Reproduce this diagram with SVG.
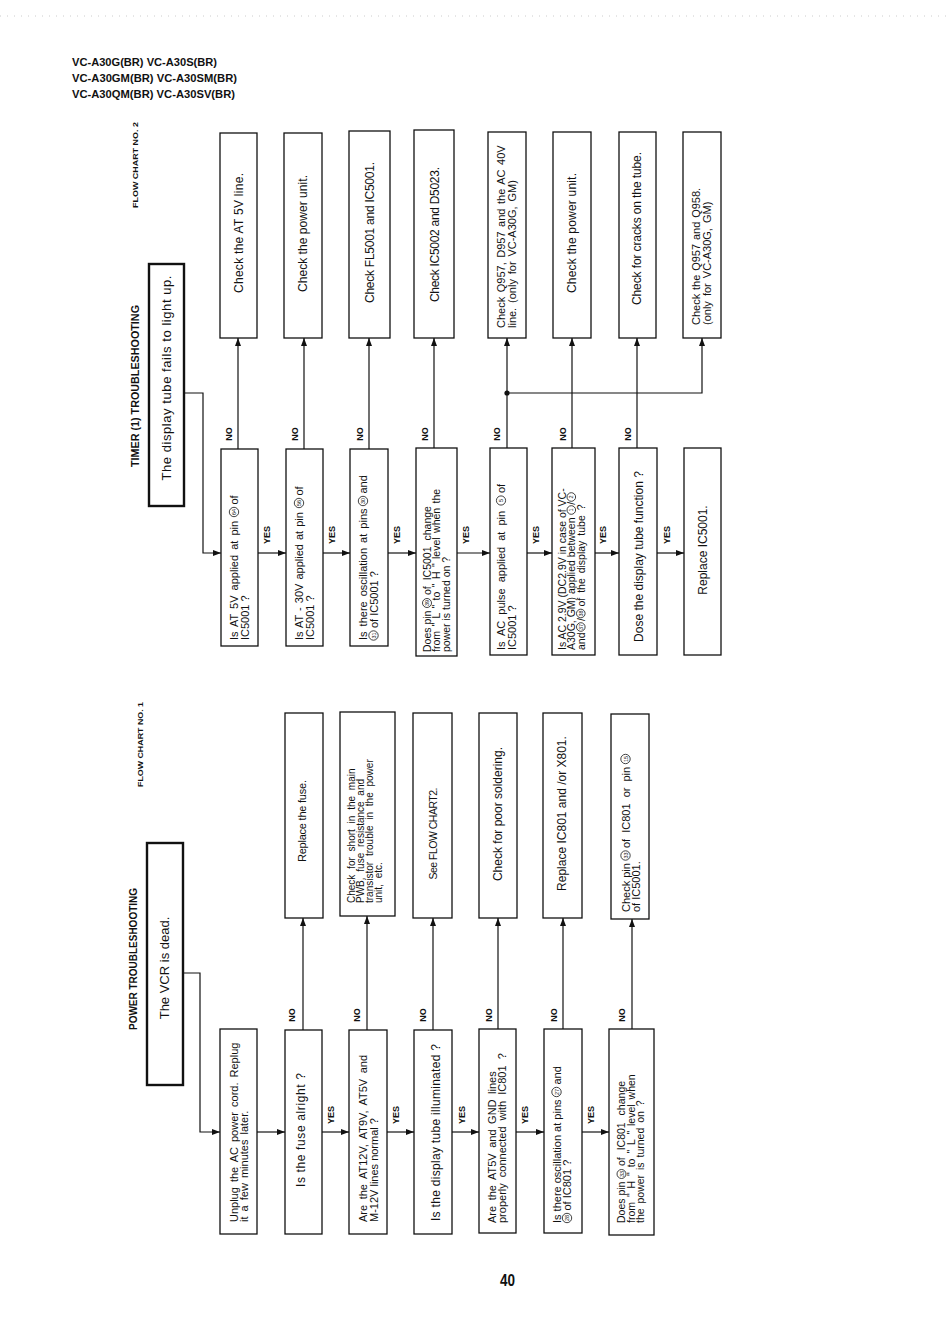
<svg xmlns="http://www.w3.org/2000/svg" width="950" height="1340" viewBox="0 0 950 1340">
<defs>
<marker id="ah" markerUnits="userSpaceOnUse" markerWidth="8" markerHeight="6" refX="8" refY="3" orient="auto">
<path d="M0,0 L8,3 L0,6 z" fill="#111"/>
</marker>
<style>
.box{fill:#fff;stroke:#111;stroke-width:1.3}
.sbox{fill:#fff;stroke:#111;stroke-width:2.4}
.t{font-family:"Liberation Sans",Arial,sans-serif;font-size:12px;fill:#111}
.t11{font-size:11px}
.t10{font-size:10.5px}
.t9{font-size:10px}
.t13{font-size:13px}
.m{text-anchor:middle}
.lbl{font-family:"Liberation Sans",Arial,sans-serif;font-size:9px;font-weight:bold;fill:#111;text-anchor:middle}
.hdr{font-family:"Liberation Sans",Arial,sans-serif;font-size:11px;font-weight:bold;fill:#111}
.ttl{font-family:"Liberation Sans",Arial,sans-serif;font-size:11px;font-weight:bold;fill:#111;text-anchor:middle}
.fc{font-family:"Liberation Sans",Arial,sans-serif;font-size:8px;font-weight:bold;fill:#111;text-anchor:middle}
.circ{fill:none;stroke:#111;stroke-width:0.8}
.cn{font-family:"Liberation Sans",Arial,sans-serif;font-size:5.5px;fill:#111;text-anchor:middle}
.ln{fill:none;stroke:#111;stroke-width:1.2}
.arr{marker-end:url(#ah)}
</style>
</defs>
<rect width="950" height="1340" fill="#fff"/>
<line x1="0" y1="16" x2="950" y2="16" stroke="#ccc" stroke-width="1" stroke-dasharray="1 6"/>

<g id="header">
<text class="hdr" x="72" y="66" textLength="145" lengthAdjust="spacingAndGlyphs">VC-A30G(BR) VC-A30S(BR)</text>
<text class="hdr" x="72" y="82" textLength="165" lengthAdjust="spacingAndGlyphs">VC-A30GM(BR) VC-A30SM(BR)</text>
<text class="hdr" x="72" y="98" textLength="163" lengthAdjust="spacingAndGlyphs">VC-A30QM(BR) VC-A30SV(BR)</text>
</g>

<g id="titles">
<text class="ttl" transform="translate(139,386) rotate(-90)" textLength="162" lengthAdjust="spacingAndGlyphs">TIMER (1) TROUBLESHOOTING</text>
<text class="fc" transform="translate(138,165) rotate(-90)" textLength="86" lengthAdjust="spacingAndGlyphs">FLOW CHART NO. 2</text>
<text class="ttl" transform="translate(137,959) rotate(-90)" textLength="142" lengthAdjust="spacingAndGlyphs">POWER TROUBLESHOOTING</text>
<text class="fc" transform="translate(142.5,744.5) rotate(-90)" textLength="85" lengthAdjust="spacingAndGlyphs">FLOW CHART NO. 1</text>
</g>

<!-- ===== Connectors ===== -->
<g id="connectors">
<polyline class="ln arr" points="184,393 203,393 203,553 221,553"/>
<line class="ln arr" x1="258" y1="553" x2="286" y2="553"/>
<line class="ln arr" x1="323" y1="553" x2="350" y2="553"/>
<line class="ln arr" x1="388" y1="553" x2="416" y2="553"/>
<line class="ln arr" x1="457" y1="553" x2="490" y2="553"/>
<line class="ln arr" x1="527" y1="553" x2="552" y2="553"/>
<line class="ln arr" x1="595" y1="553" x2="619" y2="553"/>
<line class="ln arr" x1="657" y1="553" x2="684" y2="553"/>
<line class="ln arr" x1="238" y1="449" x2="238" y2="338"/>
<line class="ln arr" x1="304" y1="449" x2="304" y2="338"/>
<line class="ln arr" x1="369" y1="449" x2="369" y2="338"/>
<line class="ln arr" x1="434" y1="449" x2="434" y2="338"/>
<line class="ln arr" x1="507" y1="449" x2="507" y2="338"/>
<line class="ln arr" x1="572" y1="448" x2="572" y2="338"/>
<line class="ln arr" x1="637" y1="448" x2="637" y2="338"/>
<polyline class="ln arr" points="507,393 702,393 702,338"/>
<circle cx="507" cy="393" r="2.6" fill="#111"/>
<polyline class="ln arr" points="183,973 200,973 200,1132 220,1132"/>
<line class="ln arr" x1="257" y1="1132" x2="285" y2="1132"/>
<line class="ln arr" x1="322" y1="1132" x2="349" y2="1132"/>
<line class="ln arr" x1="387" y1="1132" x2="414" y2="1132"/>
<line class="ln arr" x1="452" y1="1132" x2="479" y2="1132"/>
<line class="ln arr" x1="516" y1="1132" x2="544" y2="1132"/>
<line class="ln arr" x1="582" y1="1132" x2="609" y2="1132"/>
<line class="ln arr" x1="303" y1="1030" x2="303" y2="918"/>
<line class="ln arr" x1="367" y1="1030" x2="367" y2="916"/>
<line class="ln arr" x1="433" y1="1030" x2="433" y2="918"/>
<line class="ln arr" x1="498" y1="1029" x2="498" y2="918"/>
<line class="ln arr" x1="563" y1="1029" x2="563" y2="918"/>
<line class="ln arr" x1="632" y1="1029" x2="632" y2="919"/>
<text class="lbl" transform="translate(232,434) rotate(-90)">NO</text>
<text class="lbl" transform="translate(298,434) rotate(-90)">NO</text>
<text class="lbl" transform="translate(363,434) rotate(-90)">NO</text>
<text class="lbl" transform="translate(428,434) rotate(-90)">NO</text>
<text class="lbl" transform="translate(500,434) rotate(-90)">NO</text>
<text class="lbl" transform="translate(566,434) rotate(-90)">NO</text>
<text class="lbl" transform="translate(631,434) rotate(-90)">NO</text>
<text class="lbl" transform="translate(270,535) rotate(-90)">YES</text>
<text class="lbl" transform="translate(335,535) rotate(-90)">YES</text>
<text class="lbl" transform="translate(400,535) rotate(-90)">YES</text>
<text class="lbl" transform="translate(469,535) rotate(-90)">YES</text>
<text class="lbl" transform="translate(539,535) rotate(-90)">YES</text>
<text class="lbl" transform="translate(606,535) rotate(-90)">YES</text>
<text class="lbl" transform="translate(670,535) rotate(-90)">YES</text>
<text class="lbl" transform="translate(295,1015) rotate(-90)">NO</text>
<text class="lbl" transform="translate(360,1015) rotate(-90)">NO</text>
<text class="lbl" transform="translate(426,1015) rotate(-90)">NO</text>
<text class="lbl" transform="translate(492,1015) rotate(-90)">NO</text>
<text class="lbl" transform="translate(557,1015) rotate(-90)">NO</text>
<text class="lbl" transform="translate(625,1015) rotate(-90)">NO</text>
<text class="lbl" transform="translate(334,1115) rotate(-90)">YES</text>
<text class="lbl" transform="translate(399,1115) rotate(-90)">YES</text>
<text class="lbl" transform="translate(465,1115) rotate(-90)">YES</text>
<text class="lbl" transform="translate(528,1115) rotate(-90)">YES</text>
<text class="lbl" transform="translate(594,1115) rotate(-90)">YES</text>
</g>

<!-- ===== Flow chart 2 ===== -->
<g id="start2" transform="translate(149,506) rotate(-90)">
<rect class="sbox" x="0" y="0" width="242" height="35"/>
<text class="t t13 m" x="128" y="22" textLength="205">The display tube fails to light up.</text>
</g>
<g id="r2_1" transform="translate(220,338) rotate(-90)">
<rect class="box" x="0" y="0" width="205" height="37"/>
<text class="t m" x="105" y="22.5" textLength="120">Check the AT 5V line.</text>
</g>
<g id="r2_2" transform="translate(284,338) rotate(-90)">
<rect class="box" x="0" y="0" width="205" height="38"/>
<text class="t m" x="104.5" y="23" textLength="117">Check the power unit.</text>
</g>
<g id="r2_3" transform="translate(349,338) rotate(-90)">
<rect class="box" x="0" y="0" width="207" height="41"/>
<text class="t m" x="105.5" y="25" textLength="141">Check FL5001 and IC5001.</text>
</g>
<g id="r2_4" transform="translate(414,338) rotate(-90)">
<rect class="box" x="0" y="0" width="208" height="40"/>
<text class="t m" x="103.5" y="25" textLength="135">Check IC5002 and D5023.</text>
</g>
<g id="r2_5" transform="translate(488,338) rotate(-90)">
<rect class="box" x="0" y="0" width="206" height="38"/>
<text class="t t11" x="10" y="17" style="word-spacing:1.5px">Check Q957, D957 and the AC 40V</text>
<text class="t t11" x="10" y="27.5" style="word-spacing:1.8px">line. (only for VC-A30G, GM)</text>
</g>
<g id="r2_6" transform="translate(553,338) rotate(-90)">
<rect class="box" x="0" y="0" width="206" height="38"/>
<text class="t m" x="105" y="23" textLength="120">Check the power unit.</text>
</g>
<g id="r2_7" transform="translate(619,338) rotate(-90)">
<rect class="box" x="0" y="0" width="206" height="37"/>
<text class="t m" x="109.5" y="22" textLength="153">Check for cracks on the tube.</text>
</g>
<g id="r2_8" transform="translate(683,338) rotate(-90)">
<rect class="box" x="0" y="0" width="206" height="38"/>
<text class="t t11" x="13" y="17" style="word-spacing:0.8px">Check the Q957 and Q958.</text>
<text class="t t11" x="13" y="27.5" style="word-spacing:2px">(only for VC-A30G, GM)</text>
</g>

<g id="q2_1" transform="translate(221,646) rotate(-90)">
<rect class="box" x="0" y="0" width="197" height="37"/>
<text class="t t11" x="6" y="17" style="word-spacing:2px">Is AT 5V applied at pin</text>
<circle class="circ" cx="134" cy="13" r="4.7"/><text class="cn" x="134" y="15">64</text>
<text class="t t11" x="141.5" y="17">of</text>
<text class="t t11" x="6" y="27.5">IC5001 ?</text>
</g>
<g id="q2_2" transform="translate(286,646) rotate(-90)">
<rect class="box" x="0" y="0" width="197" height="37"/>
<text class="t t11" x="6" y="17" style="word-spacing:1px">Is AT - 30V applied at pin</text>
<circle class="circ" cx="143" cy="13" r="4.7"/><text class="cn" x="143" y="15">56</text>
<text class="t t11" x="150.5" y="17">of</text>
<text class="t t11" x="6" y="27.5">IC5001 ?</text>
</g>
<g id="q2_3" transform="translate(350,646) rotate(-90)">
<rect class="box" x="0" y="0" width="197" height="38"/>
<text class="t t11" x="6" y="17" style="word-spacing:2px">Is there oscillation at pins</text>
<circle class="circ" cx="145" cy="13" r="4.7"/><text class="cn" x="145" y="15">30</text>
<text class="t t11" x="152.5" y="17">and</text>
<circle class="circ" cx="10.5" cy="23.5" r="4.7"/><text class="cn" x="10.5" y="25.5">31</text>
<text class="t t11" x="18" y="27.5">of IC5001 ?</text>
</g>
<g id="q2_4" transform="translate(416,656) rotate(-90)">
<rect class="box" x="0" y="0" width="208" height="41"/>
<text class="t t10" x="4" y="14.5">Does pin</text>
<circle class="circ" cx="53" cy="11" r="4.5"/><text class="cn" x="53" y="13">39</text>
<text class="t t10" x="61" y="14.5" style="word-spacing:3px">of IC5001 change</text>
<text class="t t10" x="4" y="24" style="word-spacing:1.5px">from " L " to " H " level when the</text>
<text class="t t10" x="4" y="33.5">power is turned on ?</text>
</g>
<g id="q2_5" transform="translate(490,655) rotate(-90)">
<rect class="box" x="0" y="0" width="207" height="37"/>
<text class="t t11" x="5" y="15" style="word-spacing:3px">Is AC pulse applied at pin</text>
<circle class="circ" cx="154.5" cy="11" r="4.6"/><text class="cn" x="154.5" y="13">5</text>
<text class="t t11" x="162" y="15">of</text>
<text class="t t11" x="5" y="25.5">IC5001 ?</text>
</g>
<g id="q2_6" transform="translate(552,655) rotate(-90)">
<rect class="box" x="0" y="0" width="207" height="43"/>
<text class="t t10" x="5" y="13.5">Is AC 2.9V (DC2.9V in case of VC-</text>
<text class="t t10" x="5" y="23">A30G, GM) applied between</text>
<circle class="circ" cx="145" cy="19.3" r="4.3"/><text class="cn" x="145" y="21.3">1</text>
<text class="t t10" x="150.2" y="23">/</text>
<circle class="circ" cx="158" cy="19.3" r="4.3"/><text class="cn" x="158" y="21.3">2</text>
<text class="t t10" x="5" y="32.5">and</text>
<circle class="circ" cx="28" cy="28.8" r="4.3"/><text class="cn" x="28" y="30.8">37</text>
<text class="t t10" x="34" y="32.5">/</text>
<circle class="circ" cx="41.5" cy="28.8" r="4.3"/><text class="cn" x="41.5" y="30.8">38</text>
<text class="t t10" x="48.5" y="32.5" style="word-spacing:2px">of the display tube ?</text>
</g>
<g id="q2_7" transform="translate(619,655) rotate(-90)">
<rect class="box" x="0" y="0" width="207" height="38"/>
<text class="t m" x="98.5" y="23.5">Dose the display tube function ?</text>
</g>
<g id="q2_8" transform="translate(684,655) rotate(-90)">
<rect class="box" x="0" y="0" width="207" height="37"/>
<text class="t m" x="105" y="23">Replace IC5001.</text>
</g>

<!-- ===== Flow chart 1 ===== -->
<g id="start1" transform="translate(147,1085) rotate(-90)">
<rect class="sbox" x="0" y="0" width="242" height="36"/>
<text class="t t13 m" x="117" y="21.5">The VCR is dead.</text>
</g>
<g id="b1_1" transform="translate(220,1234) rotate(-90)">
<rect class="box" x="0" y="0" width="205" height="37"/>
<text class="t t11" x="12" y="17.5" style="word-spacing:2px">Unplug the AC power cord. Replug</text>
<text class="t t11" x="12" y="27.5" style="word-spacing:2px">it a few minutes later.</text>
</g>
<g id="b1_2" transform="translate(285,1234) rotate(-90)">
<rect class="box" x="0" y="0" width="204" height="37"/>
<text class="t m" x="104" y="20" textLength="114">Is the fuse alright ?</text>
</g>
<g id="b1_3" transform="translate(349,1234) rotate(-90)">
<rect class="box" x="0" y="0" width="204" height="38"/>
<text class="t t11" x="12" y="18" style="word-spacing:2.5px">Are the AT12V, AT9V, AT5V and</text>
<text class="t t11" x="12" y="28.5">M-12V lines normal ?</text>
</g>
<g id="b1_4" transform="translate(414,1234) rotate(-90)">
<rect class="box" x="0" y="0" width="204" height="38"/>
<text class="t m" x="101.5" y="26" textLength="177">Is the display tube illuminated ?</text>
</g>
<g id="b1_5" transform="translate(479,1233) rotate(-90)">
<rect class="box" x="0" y="0" width="204" height="37"/>
<text class="t t11" x="10" y="16.5" style="word-spacing:2.5px">Are the AT5V and GND lines</text>
<text class="t t11" x="10" y="26.5" style="word-spacing:3px">properly connected with IC801 ?</text>
</g>
<g id="b1_6" transform="translate(544,1233) rotate(-90)">
<rect class="box" x="0" y="0" width="204" height="38"/>
<text class="t t11" x="10" y="16.5">Is there oscillation at pins</text>
<circle class="circ" cx="141" cy="12.5" r="4.7"/><text class="cn" x="141" y="14.5">27</text>
<text class="t t11" x="148.5" y="16.5">and</text>
<circle class="circ" cx="15" cy="23" r="4.7"/><text class="cn" x="15" y="25">28</text>
<text class="t t11" x="22.5" y="27">of IC801 ?</text>
</g>
<g id="b1_7" transform="translate(609,1235) rotate(-90)">
<rect class="box" x="0" y="0" width="206" height="45"/>
<text class="t t10" x="12" y="16">Does pin</text>
<circle class="circ" cx="61" cy="12.5" r="4.5"/><text class="cn" x="61" y="14.5">33</text>
<text class="t t10" x="69" y="16" style="word-spacing:4px">of IC801 change</text>
<text class="t t10" x="12" y="25.5" style="word-spacing:2px">from " H " to " L " level when</text>
<text class="t t10" x="12" y="35" style="word-spacing:2px">the power is turned on ?</text>
</g>

<g id="rl_1" transform="translate(285,918) rotate(-90)">
<rect class="box" x="0" y="0" width="205" height="38"/>
<text class="t t11 m" x="97" y="21" textLength="82">Replace the fuse.</text>
</g>
<g id="rl_2" transform="translate(340,916) rotate(-90)">
<rect class="box" x="0" y="0" width="204" height="55"/>
<text class="t t9" x="13" y="15" style="word-spacing:3px">Check for short in the main</text>
<text class="t t9" x="13" y="24" style="word-spacing:3px">PWB, fuse resistance and</text>
<text class="t t9" x="13" y="33" style="word-spacing:3px">transistor trouble in the power</text>
<text class="t t9" x="13" y="42" style="word-spacing:3px">unit, etc.</text>
</g>
<g id="rl_3" transform="translate(413,918) rotate(-90)">
<rect class="box" x="0" y="0" width="205" height="39"/>
<text class="t t10 m" x="84.5" y="24" textLength="92">See FLOW CHART2.</text>
</g>
<g id="rl_4" transform="translate(479,918) rotate(-90)">
<rect class="box" x="0" y="0" width="205" height="38"/>
<text class="t m" x="104" y="23">Check for poor soldering.</text>
</g>
<g id="rl_5" transform="translate(543,918) rotate(-90)">
<rect class="box" x="0" y="0" width="205" height="39"/>
<text class="t m" x="104.5" y="23">Replace IC801 and /or X801.</text>
</g>
<g id="rl_6" transform="translate(611,919) rotate(-90)">
<rect class="box" x="0" y="0" width="205" height="38"/>
<text class="t t11" x="7" y="18.5">Check pin</text>
<circle class="circ" cx="63.5" cy="14.5" r="4.7"/><text class="cn" x="63.5" y="16.5">33</text>
<text class="t t11" x="71" y="18.5" style="word-spacing:3px">of IC801 or pin</text>
<circle class="circ" cx="160" cy="14.5" r="4.7"/><text class="cn" x="160" y="16.5">15</text>
<text class="t t11" x="7" y="28.5">of IC5001.</text>
</g>

<g id="page-number">
<text class="hdr" x="500" y="1286" style="font-size:17px" textLength="15" lengthAdjust="spacingAndGlyphs">40</text>
</g>
</svg>
